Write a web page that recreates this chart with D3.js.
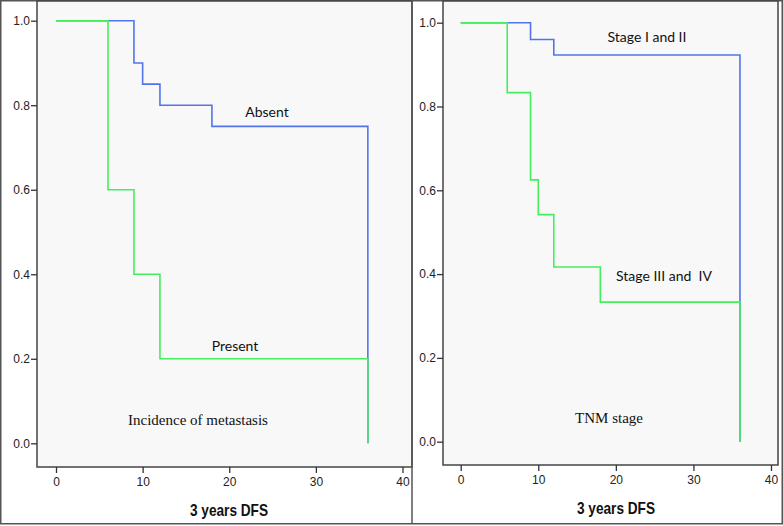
<!DOCTYPE html>
<html><head><meta charset="utf-8">
<script src="https://cdn.jsdelivr.net/npm/d3@7"></script>
<style>
body{margin:0;background:#fff;}
svg{display:block;}
text{white-space:pre;}
.tick text{font-family:"Liberation Sans Narrow","Arial Narrow","Liberation Sans",sans-serif;font-size:12px;fill:#222;}
.tick line{stroke:#333;stroke-width:1.3;}
</style></head><body>
<svg id="c" width="783" height="526"></svg>
<script>
// Data
const xTicks = [0, 10, 20, 30, 40];
const yTicks = [0.0, 0.2, 0.4, 0.6, 0.8, 1.0];
const xTitle = "3 years DFS";

const absentTimes = [0, 9, 10, 12, 18, 36];
const absentSurv  = [1, 0.9, 0.85, 0.8, 0.75, 0];
const presentTimes = [0, 6, 9, 12, 36];
const presentSurv  = [1, 0.6, 0.4, 0.2, 0];

const stage12Times = [0, 9, 12, 36];
const stage12Surv  = [1, 0.96, 0.923, 0];
const stage34Times = [0, 6, 9, 10, 12, 18, 36];
const stage34Surv  = [1, 0.833, 0.625, 0.542, 0.417, 0.333, 0];

const blue = "#5274ea", green = "#44ee5c";

const svg = d3.select("#c");

// outer frame
svg.append("rect").attr("x",0.75).attr("y",0.75).attr("width",781.5).attr("height",523)
  .attr("fill","#fff").attr("stroke","#555").attr("stroke-width",1.5);

function panel(cfg){
  const g = svg.append("g");
  g.append("rect").attr("x",cfg.left).attr("y",cfg.top).attr("width",cfg.right-cfg.left).attr("height",cfg.bottom-cfg.top)
    .attr("fill","#f8f8f8").attr("stroke","#444").attr("stroke-width",1.5);
  const x = d3.scaleLinear().domain([0,40]).range(cfg.xr);
  const y = d3.scaleLinear().domain([0,1]).range(cfg.yr);
  const ax = g.append("g").attr("transform",`translate(0,${cfg.bottom})`)
    .call(d3.axisBottom(x).tickValues(xTicks).tickSize(6).tickPadding(4).tickFormat(d3.format("d")));
  ax.select(".domain").remove();
  const ay = g.append("g").attr("transform",`translate(${cfg.left},0)`)
    .call(d3.axisLeft(y).tickValues(yTicks).tickSize(6).tickPadding(1).tickFormat(d3.format(".1f")));
  ay.select(".domain").remove();
  const line = d3.line().x(d=>x(d[0])).y(d=>y(d[1])).curve(d3.curveStepAfter);
  cfg.series.forEach(s=>{
    g.append("path").datum(d3.zip(s.t,s.s)).attr("d",line).attr("fill","none")
      .attr("stroke",s.color).attr("stroke-width",1.6);
  });
  cfg.labels.forEach(l=>{
    g.append("text").attr("x",l.x).attr("y",l.y).attr("text-anchor","middle")
      .attr("font-family",l.font).attr("font-size",l.size).attr("fill","#111").text(l.text);
  });
  g.append("text").attr("x",cfg.titleX-39).attr("y",cfg.titleY)
    .attr("font-family",'"Liberation Sans Narrow","Arial Narrow","Liberation Sans",sans-serif')
    .attr("font-weight","bold").attr("font-size",17).attr("fill","#111")
    .attr("textLength",78).attr("lengthAdjust","spacingAndGlyphs").text(xTitle);
}

const sans = 'Lato, "Open Sans", sans-serif';
const serif = '"Liberation Serif", "DejaVu Serif", serif';

panel({left:37,right:412,top:1,bottom:467,xr:[56,402.5],yr:[443.3,20.7],titleX:229,titleY:516,
  series:[{t:absentTimes,s:absentSurv,color:blue},{t:presentTimes,s:presentSurv,color:green}],
  labels:[{x:267,y:117,text:"Absent",font:sans,size:14},
          {x:235,y:351,text:"Present",font:sans,size:14},
          {x:198,y:425,text:"Incidence of metastasis",font:serif,size:15}]});

panel({left:443,right:778,top:1,bottom:465,xr:[460.7,771],yr:[441.7,22.7],titleX:616,titleY:514,
  series:[{t:stage12Times,s:stage12Surv,color:blue},{t:stage34Times,s:stage34Surv,color:green}],
  labels:[{x:647,y:42,text:"Stage I and II",font:sans,size:14},
          {x:664,y:281,text:"Stage III and  IV",font:sans,size:14},
          {x:609,y:423,text:"TNM stage",font:serif,size:15}]});

// divider between panels
svg.append("line").attr("x1",412).attr("x2",412).attr("y1",0).attr("y2",524).attr("stroke","#555").attr("stroke-width",1.5);
</script></body></html>
